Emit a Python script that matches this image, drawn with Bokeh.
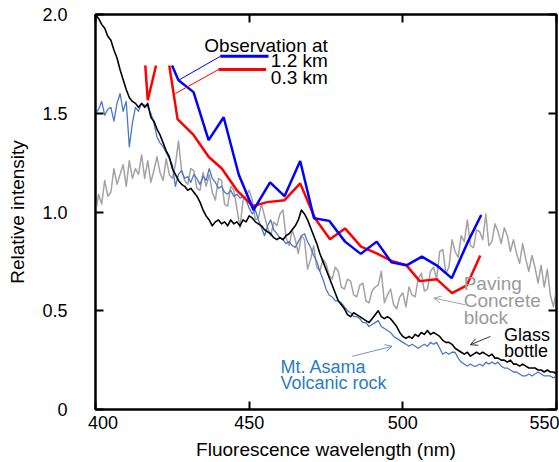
from bokeh.plotting import figure
from bokeh.models import LinearAxis, FixedTicker, Label, Arrow, OpenHead, Range1d
from bokeh.embed import file_html
from bokeh.resources import INLINE

FONT = "Liberation Sans"

# ---------------- data ----------------
wavelength = list(range(400, 551))

glass_bottle = [
    2.00, 1.98, 1.95, 1.93, 1.89, 1.87, 1.82, 1.78, 1.72, 1.67,
    1.62, 1.58, 1.56, 1.55, 1.53, 1.55, 1.53, 1.55, 1.48, 1.46,
    1.42, 1.39, 1.35, 1.31, 1.28, 1.22, 1.19, 1.16, 1.14, 1.13,
    1.11, 1.12, 1.10, 1.08, 1.05, 1.01, 0.98, 0.96, 0.93, 0.95,
    0.96, 0.94, 0.95, 0.93, 0.96, 0.94, 0.95, 0.93, 0.96, 0.95,
    0.98, 0.97, 0.95, 0.94, 0.93, 0.91, 0.90, 0.89, 0.87, 0.86,
    0.87, 0.86, 0.88, 0.89, 0.91, 0.93, 0.96, 1.01, 0.99, 0.96,
    0.92, 0.88, 0.84, 0.79, 0.75, 0.71, 0.67, 0.63, 0.59, 0.55,
    0.53, 0.51, 0.48, 0.47, 0.49, 0.48, 0.47, 0.46, 0.45, 0.44,
    0.46, 0.48, 0.50, 0.47, 0.46, 0.47, 0.46, 0.44, 0.42, 0.39,
    0.37, 0.36, 0.37, 0.36, 0.38, 0.37, 0.39, 0.38, 0.40, 0.38,
    0.39, 0.38, 0.37, 0.35, 0.34, 0.34, 0.33, 0.31, 0.30, 0.29,
    0.28, 0.29, 0.27, 0.28, 0.29, 0.28, 0.29, 0.28, 0.27, 0.28,
    0.26, 0.26, 0.25, 0.25, 0.24, 0.25, 0.23, 0.23, 0.22, 0.23,
    0.22, 0.21, 0.21, 0.21, 0.20, 0.20, 0.19, 0.20, 0.19, 0.19,
    0.18,
]

volcanic_rock = [
    1.50, 1.52, 1.56, 1.49, 1.52, 1.53, 1.46, 1.55, 1.60, 1.51,
    1.56, 1.33, 1.45, 1.53, 1.51, 1.55, 1.54, 1.53, 1.50, 1.45,
    1.38, 1.35, 1.33, 1.30, 1.27, 1.24, 1.13, 1.19, 1.21, 1.17,
    1.18, 1.15, 1.19, 1.17, 1.14, 1.18, 1.16, 1.22, 1.17, 1.15,
    1.12, 1.13, 1.10, 1.09, 1.11, 1.08, 1.09, 1.07, 1.08, 1.06,
    1.02, 0.99, 1.01, 0.96, 0.92, 0.88, 0.93, 0.96, 0.91, 0.89,
    0.87, 0.86, 0.84, 0.85, 0.83, 0.82, 0.85, 0.88, 0.89, 0.85,
    0.82, 0.78, 0.75, 0.70, 0.66, 0.61, 0.58, 0.57, 0.55, 0.55,
    0.54, 0.52, 0.50, 0.49, 0.47, 0.47, 0.46, 0.44, 0.44, 0.42,
    0.43, 0.44, 0.45, 0.42, 0.41, 0.40, 0.39, 0.37, 0.36, 0.35,
    0.34, 0.33, 0.32, 0.33, 0.32, 0.31, 0.32, 0.33, 0.32, 0.34,
    0.33, 0.34, 0.31, 0.28, 0.29, 0.28, 0.29, 0.29, 0.26, 0.24,
    0.23, 0.22, 0.23, 0.22, 0.22, 0.23, 0.22, 0.24, 0.23, 0.24,
    0.23, 0.24, 0.22, 0.21, 0.21, 0.20, 0.19, 0.19, 0.18, 0.17,
    0.17, 0.18, 0.17, 0.18, 0.19, 0.18, 0.17, 0.17, 0.17, 0.16,
    0.17,
]

concrete_block = [
    0.99, 1.09, 1.04, 1.16, 1.08, 1.10, 1.22, 1.14, 1.19, 1.24,
    1.13, 1.26, 1.17, 1.22, 1.19, 1.29, 1.17, 1.26, 1.15, 1.21,
    1.28, 1.20, 1.16, 1.27, 1.19, 1.17, 1.24, 1.36, 1.21, 1.16,
    1.14, 1.22, 1.21, 1.12, 1.11, 1.20, 1.13, 1.19, 1.10, 1.06,
    1.17, 1.16, 1.04, 1.03, 1.13, 1.11, 1.02, 0.92, 1.06, 1.08,
    1.11, 1.06, 0.96, 0.97, 1.04, 0.98, 0.92, 0.88, 0.95, 0.93,
    0.99, 1.01, 0.87, 0.83, 0.91, 0.86, 0.79, 0.88, 0.86, 0.71,
    0.76, 0.83, 0.72, 0.70, 0.76, 0.74, 0.68, 0.66, 0.72, 0.70,
    0.62, 0.61, 0.66, 0.65, 0.58, 0.57, 0.63, 0.64, 0.55, 0.54,
    0.60, 0.62, 0.63, 0.70, 0.54, 0.58, 0.61, 0.53, 0.51, 0.57,
    0.59, 0.52, 0.62, 0.58, 0.57, 0.66, 0.69, 0.60, 0.61, 0.70,
    0.72, 0.66, 0.80, 0.81, 0.69, 0.72, 0.86, 0.80, 0.77, 0.88,
    0.85, 0.96, 0.83, 0.82, 0.91, 0.90, 0.86, 0.99, 0.83, 0.85,
    0.94, 0.90, 0.84, 0.92, 0.88, 0.80, 0.86, 0.79, 0.74, 0.84,
    0.76, 0.70, 0.78, 0.72, 0.64, 0.73, 0.62, 0.71, 0.58, 0.52,
    0.61,
]

NAN = float("nan")
obs_12km_x = [424.9, 427.0, 431.9, 436.8, 441.7, 446.6, 451.4, 456.8, 461.5, 466.6,
              471.1, 476.1, 481.2, 486.3, 491.5, 496.3, 501.2, 506.2, 511.0, 515.9,
              521.2, 525.5]
obs_12km_y = [1.742, 1.667, 1.607, 1.364, 1.480, 1.190, 1.010, 1.150, 1.080, 1.258,
              0.968, 0.955, 0.850, 0.788, 0.850, 0.745, 0.730, 0.774, 0.730, 0.665,
              0.850, 0.985]

obs_03km_x = [416.2, 417.0, 419.7, NAN, 424.0, 426.7, 431.9, 436.8, 441.1, 446.0,
              451.2, 455.9, 461.5, 466.6, 471.4, 476.3, 481.2, 486.4, 491.5, 496.3,
              501.2, 505.5, 511.0, 516.0, 520.8, 525.2]
obs_03km_y = [1.742, 1.566, 1.742, NAN, 1.742, 1.470, 1.390, 1.280, 1.220, 1.110,
              1.030, 1.050, 1.060, 1.145, 0.968, 0.862, 0.917, 0.825, 0.790, 0.752,
              0.730, 0.650, 0.660, 0.589, 0.628, 0.780]

NBSP = "\u00a0"
x_ticks = [400, 450, 500, 550]
x_tick_labels = [NBSP * 3 + "400", "450", "500", "550"]
y_ticks = [0, 0.5, 1.0, 1.5, 2.0]
y_tick_labels = ["0", "0.5", "1.0", "1.5", "2.0"]

C_OBS_BLUE = "#0000ff"
C_OBS_RED = "#ff0000"
C_ROCK = "#4a78c6"
C_ROCK_TEXT = "#2a7cc8"
C_GRAY = "#a3a3a3"
C_GRAY_TEXT = "#9a9a9a"

# ---------------- figure ----------------
p = figure(width=559, height=462,
           x_range=Range1d(400, 550), y_range=Range1d(0, 2.0),
           output_backend="svg", toolbar_location=None,
           min_border_left=95, min_border_right=3, min_border_top=14, min_border_bottom=53,
           x_axis_label="Fluorescence wavelength (nm)", y_axis_label="Relative intensity")
p.xgrid.visible = False
p.ygrid.visible = False
p.outline_line_color = "black"
p.outline_line_width = 2
p.background_fill_color = "white"
p.border_fill_color = "white"

p.xaxis.ticker = FixedTicker(ticks=x_ticks)
p.xaxis.major_label_overrides = dict(zip(x_ticks, x_tick_labels))
p.yaxis.ticker = FixedTicker(ticks=y_ticks)
p.yaxis.major_label_overrides = dict(zip(y_ticks, y_tick_labels))

for ax in [p.xaxis[0], p.yaxis[0]]:
    ax.major_tick_in = 8
    ax.major_tick_out = 0
    ax.minor_tick_in = 0
    ax.minor_tick_out = 0
    ax.major_tick_line_width = 2
    ax.axis_line_width = 2
    ax.major_label_text_font = FONT
    ax.major_label_text_font_size = "18px"
    ax.major_label_text_color = "black"
    ax.axis_label_text_font = FONT
    ax.axis_label_text_font_size = "19px"
    ax.axis_label_text_font_style = "normal"
    ax.axis_label_text_color = "black"

p.xaxis.major_label_standoff = 3
p.xaxis.axis_label_standoff = 3
p.yaxis.major_label_standoff = 28
p.yaxis.axis_label_standoff = 11

for loc, ticks in (("above", x_ticks), ("right", y_ticks)):
    ax = LinearAxis(ticker=FixedTicker(ticks=ticks), major_label_text_font_size="0px",
                    major_label_text_color=None, major_label_standoff=0,
                    major_tick_in=8, major_tick_out=0,
                    minor_tick_in=0, minor_tick_out=0, major_tick_line_width=2,
                    axis_line_width=2)
    p.add_layout(ax, loc)

# ---------------- spectra ----------------
p.line(wavelength, concrete_block, line_color=C_GRAY, line_width=1.5, line_join="round")
p.line(wavelength, volcanic_rock, line_color=C_ROCK, line_width=1.3, line_join="round")
p.line(wavelength, glass_bottle, line_color="black", line_width=1.6, line_join="round")
p.line(obs_03km_x, obs_03km_y, line_color=C_OBS_RED, line_width=2.5)
p.line(obs_12km_x, obs_12km_y, line_color=C_OBS_BLUE, line_width=2.5)

# ---------------- annotations ----------------
# legend keys (annotation shapes) with leader lines
p.segment(x0=[440.6, 440.0], y0=[1.788, 1.721], x1=[456.3, 455.5], y1=[1.788, 1.721],
          line_color=[C_OBS_BLUE, C_OBS_RED], line_width=3)
p.segment(x0=[440.6, 440.0], y0=[1.788, 1.721], x1=[427.0, 426.0], y1=[1.667, 1.600],
          line_color=[C_OBS_BLUE, C_OBS_RED], line_width=1)

def add_label(x, y, text, color="black", size="19px", align="left"):
    p.add_layout(Label(x=x, y=y, text=text, text_font=FONT, text_font_size=size,
                       text_color=color, text_align=align, text_baseline="alphabetic",
                       y_offset=6))

add_label(435.4, 1.814, "Observation at")
add_label(475.6, 1.737, "1.2 km", align="right")
add_label(475.6, 1.652, "0.3 km", align="right")

add_label(519.8, 0.606, "Paving", C_GRAY_TEXT)
add_label(519.8, 0.520, "Concrete", C_GRAY_TEXT)
add_label(519.8, 0.437, "block", C_GRAY_TEXT)

add_label(532.9, 0.345, "Glass", "black", "18px")
add_label(532.9, 0.268, "bottle", "black", "18px")

add_label(460.2, 0.187, "Mt. Asama", C_ROCK_TEXT, "18px")
add_label(460.2, 0.104, "Volcanic rock", C_ROCK_TEXT, "18px")

for (xs, ys, xe, ye, c) in [(520.4, 0.530, 510.1, 0.564, "#8a8a8a"),
                            (528.5, 0.370, 522.0, 0.328, "black"),
                            (483.5, 0.269, 496.5, 0.320, C_ROCK)]:
    p.add_layout(Arrow(end=OpenHead(size=7, line_color=c, line_width=0.8),
                       x_start=xs, y_start=ys, x_end=xe, y_end=ye,
                       line_color=c, line_width=0.8))

open("out.html", "w").write(file_html(p, INLINE))
